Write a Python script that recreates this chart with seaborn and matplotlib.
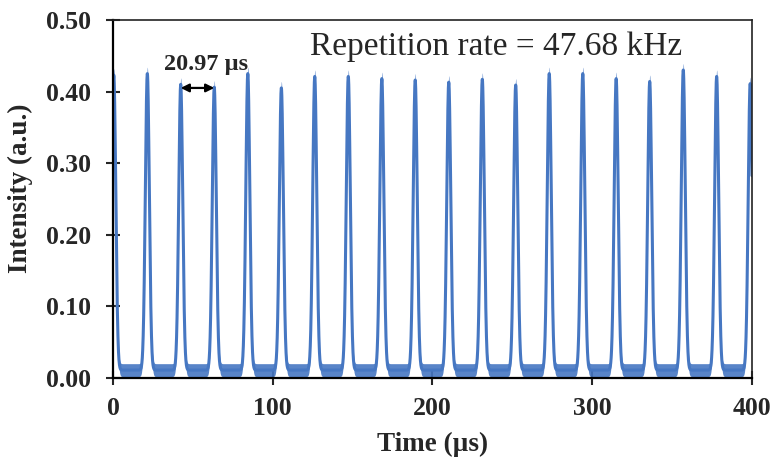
import numpy as np
import pandas as pd
import matplotlib
matplotlib.use("Agg")
import matplotlib.pyplot as plt
import seaborn as sns

# --- data ---
peak_times = [0.5, 21.5, 42.4, 63.4, 84.4, 105.4, 126.3, 147.3, 168.3, 189.2,
              210.2, 231.2, 252.1, 273.1, 294.1, 315.0, 336.0, 357.0, 377.9, 398.9]
peak_heights = [0.423, 0.425, 0.410, 0.406, 0.425, 0.405, 0.421, 0.421, 0.418, 0.416,
                0.413, 0.417, 0.409, 0.425, 0.425, 0.418, 0.414, 0.430, 0.421, 0.411]
pulse_sigma = 1.25        # µs, pulse width
baseline_level = 0.011    # mean background level
baseline_spread = 0.009   # half-thickness of the noisy background band
x_ticks = [0, 100, 200, 300, 400]
y_ticks = [0.00, 0.10, 0.20, 0.30, 0.40, 0.50]
period_label = "20.97 µs"
rate_label = "Repetition rate = 47.68 kHz"

# build waveform from the read peaks
t = np.arange(0.0, 400.0001, 0.05)
signal = np.full_like(t, baseline_level)
for tp, h in zip(peak_times, peak_heights):
    signal += (h - baseline_level) * np.exp(-0.5 * ((t - tp) / pulse_sigma) ** 2)
df = pd.DataFrame({"Time": t, "Intensity": signal})

sns.set_style("ticks")
plt.rcParams["font.family"] = ["Liberation Serif", "DejaVu Serif"]

color = "#4677c2"
fig = plt.figure(figsize=(7.76, 4.63), dpi=100)
ax = fig.add_axes([0.1456, 0.1836, 0.969 - 0.1456, 0.957 - 0.1836])

ax.fill_between(df["Time"], df["Intensity"] - baseline_spread,
                df["Intensity"] + baseline_spread, color=color, lw=0, alpha=0.9)
sns.lineplot(data=df, x="Time", y="Intensity", ax=ax, color=color, lw=2.2,
             estimator=None, sort=False)

ax.set_xlim(0, 400)
ax.set_ylim(0, 0.5)
ax.set_xticks(x_ticks)
ax.set_yticks(y_ticks)
ax.set_yticklabels([f"{v:.2f}" for v in y_ticks])
ax.tick_params(direction="inout", length=10, width=1.5, labelsize=18.5)
ax.tick_params(axis="y", pad=11)
ax.tick_params(axis="x", pad=9)
for lab in ax.get_xticklabels() + ax.get_yticklabels():
    lab.set_fontweight("bold")

ax.set_xlabel("Time (µs)", fontsize=19.5, fontweight="bold")
ax.set_ylabel("Intensity (a.u.)", fontsize=19.5, fontweight="bold")
ax.xaxis.set_label_coords(0.5, -0.15)
ax.yaxis.set_label_coords(-0.125, 0.53)

for side in ["left", "bottom"]:
    ax.spines[side].set_linewidth(1.6)
    ax.spines[side].set_color("black")
for side in ["top", "right"]:
    ax.spines[side].set_visible(True)
    ax.spines[side].set_linewidth(1.2)
    ax.spines[side].set_color("#222222")

ax.annotate("", xy=(peak_times[2], 0.405), xytext=(peak_times[3], 0.405),
            arrowprops=dict(arrowstyle="<|-|>", color="black", lw=1.6,
                            mutation_scale=12, shrinkA=0, shrinkB=0))
ax.text(58, 0.438, period_label, ha="center", va="center", fontsize=17.5,
        fontweight="bold")
ax.text(240, 0.463, rate_label, ha="center", va="center", fontsize=24)

fig.savefig("out.png", dpi=100)
